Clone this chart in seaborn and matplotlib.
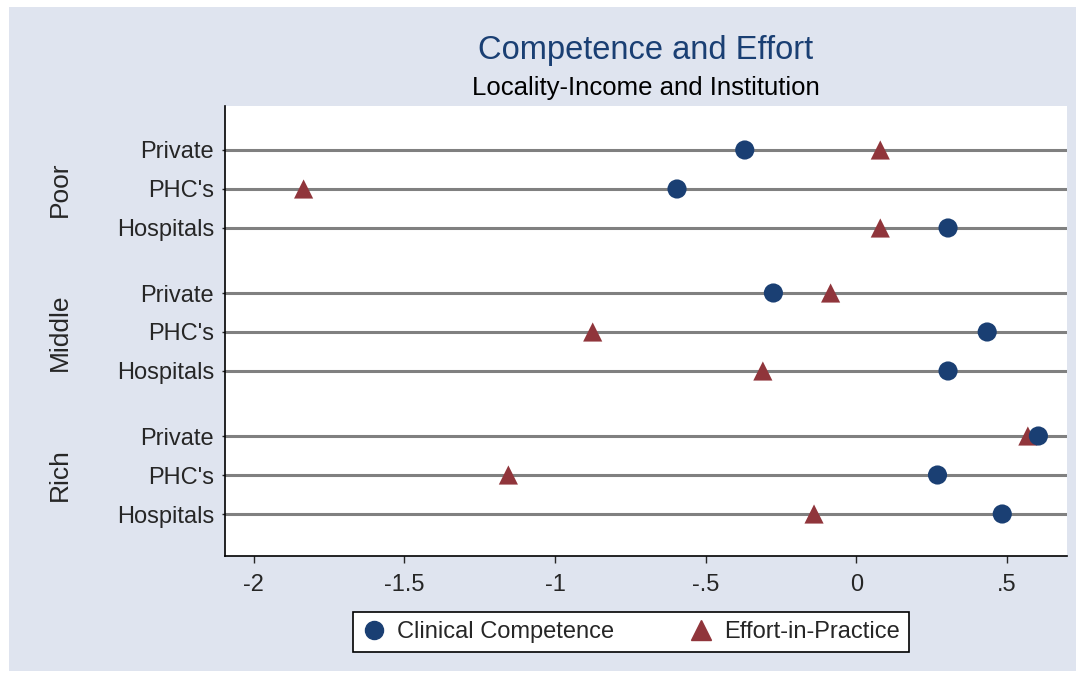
import pandas as pd
import numpy as np
import matplotlib.pyplot as plt
import seaborn as sns
from matplotlib.lines import Line2D
from matplotlib.patches import Rectangle
from matplotlib.transforms import blended_transform_factory

# values
groups = ['Poor', 'Middle', 'Rich']
insts = ['Private', "PHC's", 'Hospitals']
competence = [-0.37, -0.595, 0.305,
              -0.275, 0.435, 0.305,
              0.605, 0.27, 0.485]
effort = [0.08, -1.835, 0.08,
          -0.085, -0.875, -0.31,
          0.57, -1.155, -0.14]
xticks = [-2, -1.5, -1, -0.5, 0, 0.5]
xtick_labels = ['-2', '-1.5', '-1', '-.5', '0', '.5']

# row positions: 1 unit per row, extra gap between groups
gap = 0.667
ypos = []
for g in range(len(groups)):
    for i in range(len(insts)):
        ypos.append(g * (len(insts) + gap) + i)

rows = []
for k in range(len(ypos)):
    rows.append({'ypos': ypos[k], 'value': effort[k], 'measure': 'Effort-in-Practice'})
for k in range(len(ypos)):
    rows.append({'ypos': ypos[k], 'value': competence[k], 'measure': 'Clinical Competence'})
df = pd.DataFrame(rows)

sns.set_style('white')
plt.rcParams['font.family'] = ['Liberation Sans', 'DejaVu Sans']

navy = '#1a3f73'
maroon = '#90353b'
bg = '#dfe4ef'

fig = plt.figure(figsize=(10.84, 6.79), dpi=100)
fig.patch.set_facecolor('white')
fig.patches.append(Rectangle((9/1084, 1-671/679), (1076-9)/1084, (671-7)/679,
                             transform=fig.transFigure, facecolor=bg, edgecolor='none', zorder=-10))
ax = fig.add_axes([225/1084, 1-556/679, (1067-225)/1084, (556-106)/679])
ax.set_facecolor('white')

ax.hlines(ypos, -2.2, 0.8, color='#808080', lw=2.2, zorder=1)
sns.scatterplot(data=df, x='value', y='ypos', hue='measure', style='measure',
                hue_order=['Clinical Competence', 'Effort-in-Practice'],
                palette={'Clinical Competence': navy, 'Effort-in-Practice': maroon},
                markers={'Clinical Competence': 'o', 'Effort-in-Practice': '^'},
                s=190, linewidth=0, legend=False, ax=ax, zorder=3)

ax.set_xlim(-2.096, 0.70)
ax.set_ylim(ypos[-1] + 42/39, -44/39)
ax.set_xticks(xticks)
ax.set_xticklabels(xtick_labels)
ax.set_yticks(ypos)
ax.set_yticklabels(insts * len(groups))
ax.set_xlabel('')
ax.set_ylabel('')
ax.tick_params(axis='x', direction='out', length=5, width=1, pad=8, labelsize=17, bottom=True)
ax.tick_params(axis='y', direction='out', length=2, width=1, pad=6, labelsize=17, left=True)
for side in ['top', 'right']:
    ax.spines[side].set_visible(False)
for side in ['left', 'bottom']:
    ax.spines[side].set_color('black')
    ax.spines[side].set_linewidth(1.2)

# group labels
trans = blended_transform_factory(fig.transFigure, ax.transData)
for g, name in enumerate(groups):
    ymid = g * (len(insts) + gap) + 1
    ax.text(60/1084, ymid, name, rotation=90, ha='center', va='center', fontsize=19,
            transform=trans)

fig.text(646/1084, 1-50/679, 'Competence and Effort', ha='center', va='center',
         fontsize=23.5, color='#1a3f73')
fig.text(646/1084, 1-88/679, 'Locality-Income and Institution', ha='center', va='center',
         fontsize=18.5, color='black')

handles = [Line2D([], [], ls='', marker='o', ms=13, color=navy, label='Clinical Competence'),
           Line2D([], [], ls='', marker='^', ms=14, color=maroon, label='Effort-in-Practice')]
leg = fig.legend(handles=handles, loc='center', bbox_to_anchor=(631/1084, 1-632/679), ncol=2,
                 fontsize=17, frameon=True, fancybox=False, edgecolor='black', framealpha=1,
                 columnspacing=3.2, handletextpad=0.45, borderpad=0.4, handlelength=1.0)
leg.get_frame().set_linewidth(1.2)

fig.savefig('out.png', dpi=100, facecolor=fig.get_facecolor())
